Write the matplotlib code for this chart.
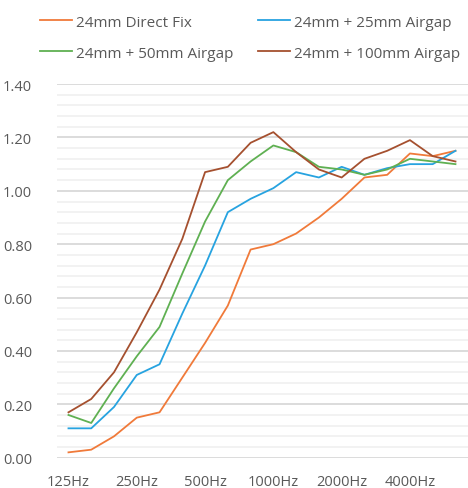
import matplotlib.pyplot as plt
from matplotlib.ticker import MultipleLocator

plt.rcParams['font.family'] = ['Open Sans', 'DejaVu Sans']

freqs = ["125Hz", "160Hz", "200Hz", "250Hz", "315Hz", "400Hz", "500Hz", "630Hz", "800Hz",
         "1000Hz", "1250Hz", "1600Hz", "2000Hz", "2500Hz", "3150Hz", "4000Hz", "5000Hz", "6300Hz"]

direct_fix = [0.02, 0.03, 0.08, 0.15, 0.17, 0.30, 0.43, 0.57, 0.78,
              0.80, 0.84, 0.90, 0.97, 1.05, 1.06, 1.14, 1.13, 1.15]
airgap_25 = [0.11, 0.11, 0.19, 0.31, 0.35, 0.54, 0.72, 0.92, 0.97,
             1.01, 1.07, 1.05, 1.09, 1.06, 1.085, 1.10, 1.10, 1.15]
airgap_50 = [0.16, 0.13, 0.26, 0.38, 0.49, 0.69, 0.885, 1.04, 1.11,
             1.17, 1.145, 1.09, 1.08, 1.06, 1.08, 1.12, 1.11, 1.10]
airgap_100 = [0.17, 0.22, 0.32, 0.47, 0.63, 0.82, 1.07, 1.09, 1.18,
              1.22, 1.145, 1.08, 1.05, 1.12, 1.15, 1.19, 1.13, 1.11]

names = ["24mm Direct Fix", "24mm + 25mm Airgap", "24mm + 50mm Airgap", "24mm + 100mm Airgap"]
colors = ["#F07A3A", "#27A3E0", "#5FB052", "#A5502F"]

fig = plt.figure(figsize=(4.68, 4.89), dpi=100)
ax = fig.add_axes([0.122, 0.062, 0.878, 0.764])

x = range(len(freqs))
lines = []
for data, name, col in zip([direct_fix, airgap_25, airgap_50, airgap_100], names, colors):
    l, = ax.plot(x, data, color=col, linewidth=1.3, label=name)
    lines.append(l)

ax.set_ylim(0, 1.40)
ax.set_xlim(-0.5, len(freqs) - 0.45)
ax.yaxis.set_major_locator(MultipleLocator(0.2))
ax.yaxis.set_minor_locator(MultipleLocator(0.04))
ax.grid(axis='y', which='major', color='#d9d9d9', linewidth=1.3)
ax.grid(axis='y', which='minor', color='#f1f1f1', linewidth=1.3)
ax.set_axisbelow(True)
ax.yaxis.set_major_formatter(plt.FuncFormatter(lambda v, p: f"{v:.2f}"))

ax.set_xticks(list(x)[::3])
ax.set_xticklabels(freqs[::3])
ax.tick_params(axis='both', which='both', length=0, labelsize=10.5, labelcolor='#595959')
ax.tick_params(axis='x', pad=12)
ax.tick_params(axis='y', pad=18)
for s in ax.spines.values():
    s.set_visible(False)

# legend is filled row by row in the original
order = [0, 2, 1, 3]
fig.legend([lines[i] for i in order], [names[i] for i in order],
           loc='upper left', bbox_to_anchor=(0.085, 0.968), ncol=2, frameon=False,
           fontsize=11, labelcolor='#595959', handlelength=2.1, handletextpad=0.3,
           columnspacing=1.55, labelspacing=1.05, borderpad=0, borderaxespad=0)

fig.savefig("out.png", dpi=100)
